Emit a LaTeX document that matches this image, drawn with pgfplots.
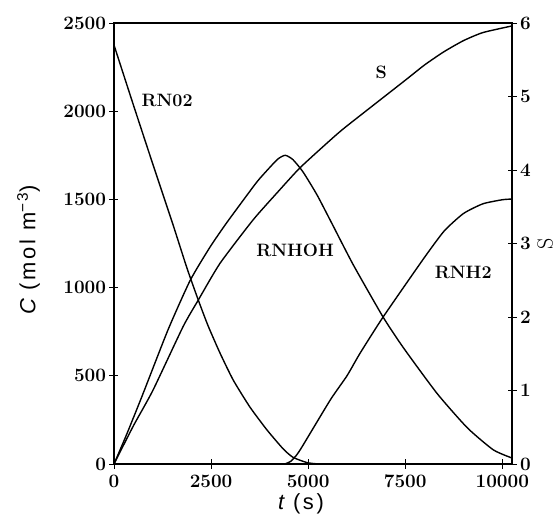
\documentclass[border=0pt]{standalone}
\usepackage{fontspec}
\usepackage{pgfplots}
\pgfplotsset{compat=1.18}
\newfontfamily\labelsans[LetterSpace=12]{Liberation Sans}

\pgfplotsset{
  kinetics/.style={
    scale only axis,
    width=398bp, height=441bp,
    xmin=0, xmax=10250,
    tick align=center,
    major tick length=9bp,
    axis line style={line width=1.1pt},
    every tick/.style={line width=0.9pt, black},
    ticklabel style={font=\fontsize{19}{22}\selectfont\bfseries},
    xticklabel style={yshift=-3bp},
    /pgf/number format/assume math mode=true,
    /pgf/number format/1000 sep={},
    scaled ticks=false,
  },
  curve/.style={black, line width=1.4pt, smooth, tension=0.35, mark=none},
}

\begin{document}
\begin{tikzpicture}
\begin{axis}[
  kinetics,
  name=main,
  ymin=0, ymax=2500,
  xtick={0,2500,5000,7500,10000},
  ytick={0,500,1000,1500,2000,2500},
  xtick pos=bottom,
  ytick pos=left,
  xlabel={\labelsans\fontsize{22}{26}\selectfont\itshape t\upshape\ (s)},
  ylabel={\labelsans\fontsize{22}{26}\selectfont\itshape C\upshape\ (mol m\textsuperscript{−3})},
  xlabel style={at={(axis description cs:0.47,-0.09)}, anchor=center},
  ylabel style={at={(axis description cs:-0.215,0.485)}, anchor=center},
]
% nitro compound
\addplot[curve] coordinates {
  (0,2375) (500,2035) (1000,1700) (1500,1370) (1880,1110) (2170,930)
  (2420,785) (2730,629) (3070,476) (3500,323) (3940,193) (4360,85)
  (4610,38) (4970,8) (5300,0) (6000,0)
};
% hydroxylamine intermediate
\addplot[curve] coordinates {
  (0,0) (330,170) (750,400) (1390,760) (1960,1040) (2474,1230)
  (2910,1370) (3580,1570) (3760,1620) (4200,1725) (4410,1750)
  (4610,1725) (4870,1655) (5230,1525) (5620,1360) (6160,1130)
  (6930,833) (7450,660) (8320,400) (9100,205) (9770,80) (10250,34)
};
% amine product
\addplot[curve] coordinates {
  (4400,0) (4550,15) (4700,50) (4850,100) (5570,363) (6000,500)
  (6340,629) (6930,833) (7960,1160) (8500,1320) (9000,1420)
  (9500,1475) (10000,1498) (10250,1502)
};
\node[font=\fontsize{18}{21}\selectfont\bfseries, anchor=west] at (axis cs:620,2063) {RN02};
\node[font=\fontsize{18}{21}\selectfont\bfseries] at (axis cs:4665,1213) {RNHOH};
\node[font=\fontsize{18}{21}\selectfont\bfseries] at (axis cs:8995,1083) {RNH2};
\node[font=\fontsize{18}{21}\selectfont\bfseries] at (axis cs:6880,2222) {S};
\end{axis}

\begin{axis}[
  kinetics,
  ymin=0, ymax=6,
  ytick={0,1,2,3,4,5,6},
  axis x line=none,
  axis y line*=right,
  ylabel={\fontsize{22}{26}\selectfont S},
  ylabel style={at={(axis description cs:1.083,0.5)}, anchor=center, inner sep=0pt},
]
\addplot[curve] coordinates {
  (0,0) (500,0.52) (1000,1.0) (1780,1.87) (2170,2.23) (2730,2.73)
  (3580,3.32) (4200,3.69) (4790,4.03) (5620,4.43) (6000,4.6)
  (7450,5.2) (8000,5.43) (8500,5.61) (9000,5.76) (9500,5.87) (10250,5.96)
};
\end{axis}

\pgfresetboundingbox
\useasboundingbox ([shift={(-114bp,-58bp)}]main.south west) rectangle ([shift={(47bp,23bp)}]main.north east);
\end{tikzpicture}
\end{document}
